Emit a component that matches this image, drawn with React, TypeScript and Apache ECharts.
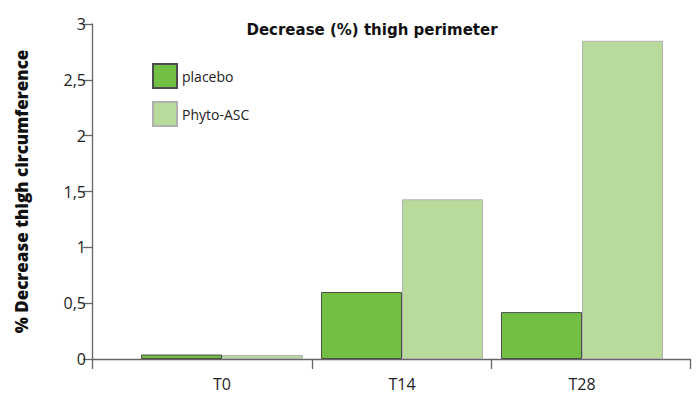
import React, { useEffect, useRef } from "react";
import * as echarts from "echarts";

const categories = ["T0", "T14", "T28"];
const placebo = [0.04, 0.6, 0.42];
const phyto = [0.035, 1.43, 2.85];
const yTicks = { min: 0, max: 3, interval: 0.5 };
const title = "Decrease (%) thigh perimeter";
const yName = "% Decrease thigh circumference";
const seriesNames = ["placebo", "Phyto-ASC"];

export default function App() {
  const ref = useRef<HTMLDivElement>(null);
  useEffect(() => {
    document.body.style.margin = "0";
    if (!ref.current) return;
    const chart = echarts.init(ref.current, null, { renderer: "svg" });
    const font = "'Open Sans', 'Liberation Sans', sans-serif";
    chart.setOption({
      animation: false,
      backgroundColor: "#ffffff",
      title: {
        text: title,
        left: 367,
        top: 17,
        textAlign: "center",
        textStyle: { fontFamily: "'DejaVu Sans', sans-serif", fontWeight: "bold", fontSize: 15, color: "#111" },
      },
      legend: {
        orient: "vertical",
        left: 147,
        top: 58,
        itemWidth: 24,
        itemHeight: 24,
        itemGap: 12,
        icon: "rect",
        textStyle: { fontFamily: font, fontSize: 14, color: "#222" },
        data: seriesNames,
      },
      grid: [
        { left: 132, right: 28, top: 24, bottom: 44 },
        { left: 92, right: 10, top: 24, bottom: 44 },
      ],
      xAxis: [
        {
          type: "category",
          gridIndex: 0,
          data: categories,
          axisLine: { show: false },
          axisTick: { show: false },
          axisLabel: { fontFamily: font, fontSize: 16, color: "#222", margin: 17 },
        },
        {
          type: "value",
          gridIndex: 1,
          min: 0,
          max: 1,
          axisLine: { show: true, lineStyle: { color: "#666", width: 1.3 } },
          axisTick: { show: true, length: 10, customValues: [0, 0.368, 0.667, 1], lineStyle: { color: "#666", width: 1.3 } },
          axisLabel: { show: false },
          splitLine: { show: false },
        },
      ],
      yAxis: [
        {
          type: "value",
          gridIndex: 0,
          min: yTicks.min,
          max: yTicks.max,
          interval: yTicks.interval,
          show: false,
          splitLine: { show: false },
        },
        {
          type: "value",
          gridIndex: 1,
          min: yTicks.min,
          max: yTicks.max,
          interval: yTicks.interval,
          name: yName,
          nameLocation: "middle",
          nameRotate: 90,
          nameGap: 62,
          nameTextStyle: { fontFamily: font, fontWeight: 800, fontSize: 17, color: "#111" },
          axisLine: { show: true, lineStyle: { color: "#666", width: 1.3 } },
          axisTick: { show: true, length: 9, lineStyle: { color: "#666", width: 1.3 } },
          axisLabel: {
            fontFamily: font,
            fontSize: 16,
            color: "#222",
            margin: 6,
            formatter: (v: number) => String(v).replace(".", ","),
          },
          splitLine: { show: false },
        },
      ],
      series: [
        {
          name: seriesNames[0],
          type: "bar",
          xAxisIndex: 0,
          yAxisIndex: 0,
          data: placebo,
          barWidth: 81,
          barGap: "0%",
          itemStyle: { color: "#72bf44", borderColor: "#4d4d4d", borderWidth: 1 },
        },
        {
          name: seriesNames[1],
          type: "bar",
          xAxisIndex: 0,
          yAxisIndex: 0,
          data: phyto,
          barWidth: 81,
          barGap: "0%",
          itemStyle: { color: "#b8db9c", borderColor: "#b0b0b0", borderWidth: 1 },
        },
      ],
    });
    return () => chart.dispose();
  }, []);
  return <div ref={ref} style={{ width: 700, height: 403 }} />;
}
